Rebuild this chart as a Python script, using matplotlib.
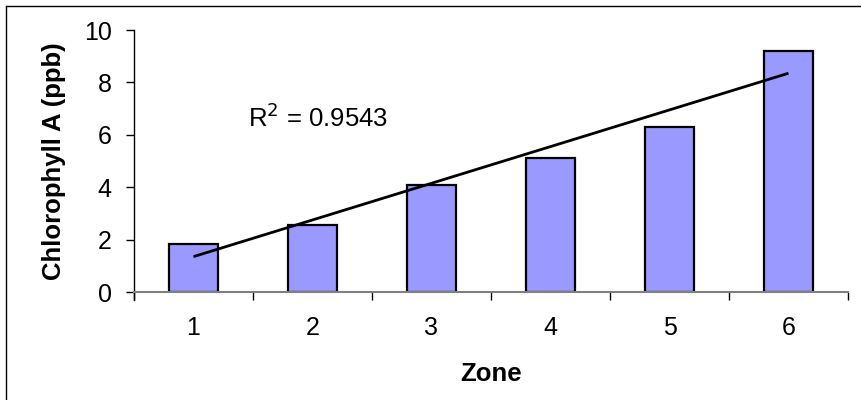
import numpy as np
import matplotlib.pyplot as plt
from matplotlib.lines import Line2D
from matplotlib.ticker import FixedLocator

plt.rcParams['font.family'] = ['Liberation Sans', 'DejaVu Sans']

zones = [1, 2, 3, 4, 5, 6]
chlorophyll = [1.85, 2.55, 4.1, 5.1, 6.3, 9.2]
y_ticks = [0, 2, 4, 6, 8, 10]
r_squared_label = 'R$^2$ = 0.9543'

fig = plt.figure(figsize=(8.61, 4.0), dpi=100)
ax = fig.add_axes([134 / 861, 1 - 292 / 400, (848 - 134) / 861, (292 - 30) / 400])

x = np.array(zones, dtype=float)
y = np.array(chlorophyll)
ax.bar(x, y, width=0.41, color='#9999FF', edgecolor='black', linewidth=1.6, zorder=2)

# linear trendline through the zone values
slope, intercept = np.polyfit(x, y, 1)
fit = slope * x + intercept
ax.plot([x[0], x[-1]], [fit[0], fit[-1]], color='black', linewidth=2.0, zorder=3,
        solid_capstyle='butt')
ax.text(2.05, 6.65, r_squared_label, fontsize=18.5, ha='center', va='center')

ax.set_xlim(0.5, 6.5)
ax.set_ylim(0, 10)
ax.set_yticks(y_ticks)
ax.set_xticks(zones)
ax.set_xticklabels([str(z) for z in zones])
ax.xaxis.set_minor_locator(FixedLocator(np.arange(0.5, 7.0, 1.0)))
ax.tick_params(axis='x', which='major', length=0, pad=17, labelsize=18)
ax.tick_params(axis='x', which='minor', length=6, width=1, direction='out', color='black')
ax.tick_params(axis='y', length=6, width=1, direction='out', labelsize=18, pad=10)

for side in ('top', 'right'):
    ax.spines[side].set_visible(False)
ax.spines['bottom'].set_color('#808080')
ax.spines['bottom'].set_linewidth(1.5)
ax.spines['left'].set_color('black')
ax.spines['left'].set_linewidth(1)
ax.spines['left'].set_bounds(-0.3, 10)

ax.set_xlabel('Zone', fontsize=18.5, fontweight='bold')
ax.set_ylabel('Chlorophyll A (ppb)', fontsize=18.5, fontweight='bold')
ax.xaxis.set_label_coords(0.5, -0.267)
ax.yaxis.set_label_coords(-0.095, 0.5)

# chart-area border (left and top edges)
fig.add_artist(Line2D([6 / 861, 6 / 861], [0, 1 - 6 / 400], transform=fig.transFigure,
                      color='black', linewidth=1))
fig.add_artist(Line2D([6 / 861, 1], [1 - 6 / 400, 1 - 6 / 400], transform=fig.transFigure,
                      color='black', linewidth=1))

fig.savefig('out.png', dpi=100)
